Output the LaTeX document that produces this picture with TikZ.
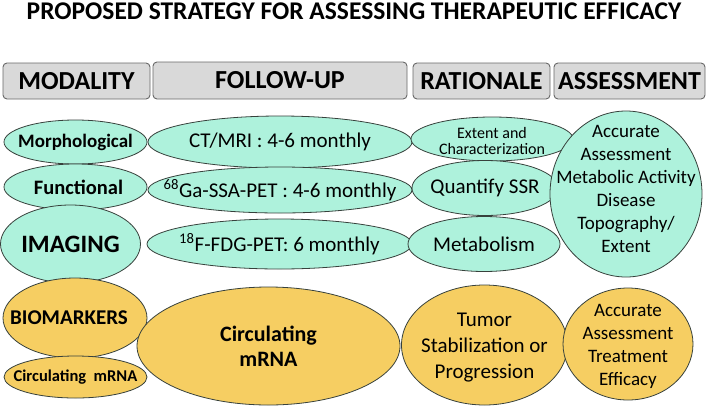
\documentclass[tikz,border=0pt]{standalone}
\usepackage{fontspec}
\setmainfont{Carlito}
\usetikzlibrary{shapes.geometric}
\definecolor{mint}{RGB}{174,242,220}
\definecolor{gold}{RGB}{246,206,98}
\definecolor{hdrfill}{RGB}{217,217,217}
\definecolor{hdrline}{RGB}{105,105,105}
\definecolor{edge}{RGB}{55,65,60}
\tikzset{
  hdr/.style={draw=hdrline, fill=hdrfill, rounded corners=4pt, line width=0.9pt, inner sep=0pt,
    font=\bfseries\fontsize{26}{28}\selectfont},
  ell/.style={shape=ellipse, draw=edge, line width=0.8pt, inner sep=0pt},
  mintell/.style={ell, fill=mint},
  goldell/.style={ell, fill=gold},
  txt/.style={inner sep=0pt, align=center},
  fs/.style={txt, font=\fontsize{#1}{#1}\selectfont},
  bfs/.style={txt, font=\bfseries\fontsize{#1}{#1}\selectfont},
}
\begin{document}
\begin{tikzpicture}[x=1pt,y=-1pt]
\useasboundingbox (0,0) rectangle (708,407);
\fill[white] (0,0) rectangle (708,407);
\node[bfs=25.5] (title) at (354,11) {PROPOSED STRATEGY FOR ASSESSING THERAPEUTIC EFFICACY};
% headers
\node[hdr, minimum width=147pt, minimum height=36pt] (hmod) at (76.5,81) {MODALITY};
\node[hdr, minimum width=254pt, minimum height=37pt] (hfol) at (280,80.5) {FOLLOW-UP};
\node[hdr, minimum width=137pt, minimum height=36pt] (hrat) at (481.5,81) {RATIONALE};
\node[hdr, minimum width=151pt, minimum height=36pt] (hass) at (629.5,81) {ASSESSMENT};
% modality ellipses
\node[mintell, minimum width=143pt, minimum height=44pt] (morph) at (75.5,142) {};
\node[mintell, minimum width=143pt, minimum height=46pt] (func) at (75.5,187) {};
\node[mintell, minimum width=140pt, minimum height=78pt] (imag) at (70.5,244) {};
% follow-up ellipses
\node[mintell, minimum width=264pt, minimum height=52pt] (ct) at (280,142) {};
\node[mintell, minimum width=264pt, minimum height=46pt] (ga) at (280,190) {};
\node[mintell, minimum width=265pt, minimum height=50pt] (fdg) at (279.5,244) {};
% rationale ellipses
\node[mintell, minimum width=162pt, minimum height=44pt] (ext) at (492,139) {};
\node[mintell, minimum width=146pt, minimum height=55pt] (ssr) at (485,188) {};
\node[mintell, minimum width=152pt, minimum height=55pt] (metab) at (484,244) {};
% assessment ellipse
\node[mintell, minimum width=152pt, minimum height=166pt] (acc) at (626,194) {};
% biomarker ellipses
\node[goldell, minimum width=144pt, minimum height=80pt] (bio) at (75,318) {};
\node[goldell, minimum width=143pt, minimum height=42pt] (circs) at (75.5,377) {};
\node[goldell, minimum width=263pt, minimum height=118pt] (circb) at (268.5,346) {};
\node[goldell, minimum width=166pt, minimum height=120pt] (tumor) at (484.5,345) {};
\node[goldell, minimum width=130pt, minimum height=112pt] (treat) at (628,344) {};
% texts
\node[bfs=19] (tmorph) at (morph) {Morphological};
\node[bfs=20.5] (tfunc) at ([xshift=3pt]func) {Functional};
\node[bfs=25] (timag) at (imag) {IMAGING};
\node[fs=21] (tct) at (ct) {CT/MRI : 4-6 monthly};
\node[fs=21] (tga) at (ga) {\textsuperscript{68}Ga-SSA-PET : 4-6 monthly};
\node[fs=21] (tfdg) at (fdg) {\textsuperscript{18}F-FDG-PET: 6 monthly};
\node[txt, font=\fontsize{16}{16}\selectfont] (text) at ([yshift=-2pt]ext) {Extent and\\Characterization};
\node[fs=21] (tssr) at (ssr) {Quantify SSR};
\node[fs=21] (tmetab) at (metab) {Metabolism};
\node[txt, font=\fontsize{19}{23}\selectfont] (tacc) at ([yshift=5pt]acc)
  {Accurate\\Assessment\\Metabolic Activity\\Disease\\Topography/\\Extent};
\node[bfs=21] (tbio) at ([xshift=-6pt]bio) {BIOMARKERS};
\node[bfs=16.5] (tcircs) at (circs) {Circulating\ \ mRNA};
\node[txt, font=\bfseries\fontsize{22}{25}\selectfont] (tcircb) at (circb) {Circulating\\mRNA};
\node[txt, font=\fontsize{21}{26}\selectfont] (ttumor) at ([yshift=-3pt]tumor) {Tumor\\Stabilization or\\Progression};
\node[txt, font=\fontsize{19}{23}\selectfont] (ttreat) at ([yshift=-2pt]treat) {Accurate\\Assessment\\Treatment\\Efficacy};
\end{tikzpicture}
\end{document}
